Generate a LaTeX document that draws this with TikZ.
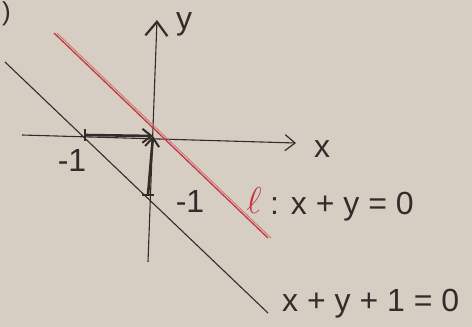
\documentclass[tikz,border=0pt]{standalone}
\usepackage{fontspec}
\setmainfont{Liberation Sans}
\usetikzlibrary{arrows.meta}
\definecolor{paper}{RGB}{214,205,195}
\definecolor{pen}{RGB}{50,45,42}
\definecolor{redpen}{RGB}{200,55,65}
\begin{document}
\begin{tikzpicture}[x=1pt,y=-1pt,
  axis/.style={draw=pen, line width=1.1pt},
  vec/.style={draw=pen, line width=2.6pt, -{Straight Barb[length=9pt,width=14pt,line width=2pt]}},
  lbl/.style={text=pen, font=\fontsize{32}{32}\selectfont, inner sep=0pt},
  tick/.style={draw=pen, line width=1.4pt}]
\fill[paper] (0,0) rectangle (472,327);
\useasboundingbox (0,0) rectangle (472,327);
% axes
\coordinate (xl) at (22,135);
\coordinate (xr) at (296,143);
\coordinate (yb) at (148,262);
\coordinate (yt) at (157,20);
\coordinate (O) at (153,136);
\draw[axis, -{Straight Barb[length=10pt,width=16pt,line width=1.2pt]}] (xl) -- (xr);
\draw[axis, -{Straight Barb[length=14pt,width=22pt,line width=2.2pt]}] (yb) -- (yt);
\node[lbl, anchor=west] (xlab) at (314,149) {x};
\node[lbl, anchor=west] (ylab) at (176,24) {y};
% ticks
\coordinate (mx) at (85,135);
\coordinate (my) at (148,195);
\draw[tick] (85,129) -- (85,141);
\draw[tick] (142,195) -- (154,195);
\node[lbl] (mxlab) at (72,160) {-1};
\node[lbl] (mylab) at (190,201) {-1};
% vectors
\draw[vec] (mx) -- (O);
\draw[vec] (my) -- (O);
% black line x+y+1=0
\coordinate (b1) at (5,62);
\coordinate (b2) at (268,313);
\draw[draw=pen, line width=1.1pt] (b1) -- (b2);
\node[lbl, anchor=west] (eq2) at (282,304) {x + y + 1 = 0};
% red line l
\coordinate (r1) at (54,33);
\coordinate (r2) at (268,238);
\draw[draw=redpen, line width=1.3pt] (r1) -- (r2);
\draw[draw=redpen!60!paper, line width=0.8pt] ([xshift=3pt]r1) -- ([xshift=3pt]r2);
\node[lbl, text=redpen, anchor=west, scale=1.5] (ell) at (246,201) {$\ell$};
\node[lbl, anchor=west] (eq1) at (270,207) {: x + y = 0};
% fragment of label
\node[lbl, anchor=north west] (frag) at (2,1) {\fontsize{26}{26}\selectfont )};
\end{tikzpicture}
\end{document}
